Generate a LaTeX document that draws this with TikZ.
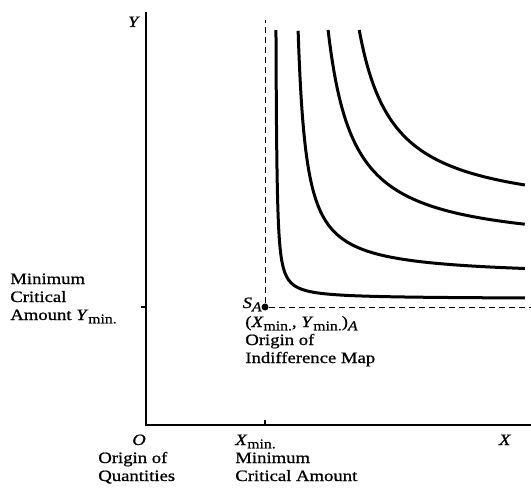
\documentclass[tikz,border=0pt]{standalone}
\usepackage{fontspec}
\setmainfont{Liberation Serif}[FakeStretch=1.18, FakeBold=0.8]
\usetikzlibrary{positioning}

\newcommand\lowsub[1]{\raisebox{-0.45ex}{\footnotesize #1}}

\tikzset{
  axis/.style={line width=0.9pt},
  guide/.style={line width=0.5pt, dash pattern=on 3.6pt off 2.4pt},
  curve/.style={line width=1.8pt},
  lbl/.style={inner sep=0pt, align=left, font=\fontsize{9.5}{10.8}\selectfont},
}

\begin{document}
\begin{tikzpicture}[x=0.6pt,y=-0.6pt]
  \useasboundingbox (0,0) rectangle (531,487);

  % axes
  \coordinate (O) at (146,425);
  \coordinate (Ytop) at (146,12);
  \coordinate (Xend) at (531,425);
  \draw[axis] (Ytop) -- (O) -- (Xend);

  % origin of the indifference map
  \node[circle,fill=black,inner sep=1.5pt] (SA) at (265,307) {};
  \coordinate (Vtop) at (265,20);
  \coordinate (Hend) at (531,307);
  \draw[guide] (SA) -- (Vtop);
  \draw[guide] (SA) -- (Hend);
  \draw[axis] (O |- SA) -- +(-5,0);
  \draw[axis] (SA |- O) -- +(0,-5);

  % indifference curves
  \begin{scope}[shift={(SA)}, x=0.6pt, y=0.6pt]
    \foreach \a/\b/\k in {10/8/260, 25/30/2000, 38/58/5500, 60/90/6400} {
      \pgfmathsetmacro\s{sqrt(\k)}
      \pgfmathsetmacro\tA{ln(\k/(277-\b)/\s)}
      \pgfmathsetmacro\tB{ln((260-\a)/\s)}
      \draw[curve] plot[domain=\tA:\tB, samples=80, smooth]
        ({\a+\s*exp(\x)}, {\b+\s*exp(-\x)});
    }
  \end{scope}

  % labels (base = last line)
  \node[lbl, anchor=base] (Ylab) at (134,27) {\textit{Y}};
  \node[lbl, anchor=base] (Xlab) at (505,445) {\textit{X}};
  \node[lbl, anchor=base] (Olab) at (139,445) {\textit{O}};
  \node[lbl, anchor=base west] (Ymin) at (10,320)
    {Minimum\\Critical\\Amount \textit{Y}\lowsub{min.}};
  \node[lbl, anchor=base east] (SAlab) at (262,308) {\textit{S}\lowsub{\textit{A}}};
  \node[lbl, anchor=base west] (map) at (245,363)
    {(\textit{X}\lowsub{min.}, \textit{Y}\lowsub{min.})\lowsub{\textit{A}}\\Origin of\\Indifference Map};
  \node[lbl, anchor=base west] (Xmin) at (235,481)
    {\textit{X}\lowsub{min.}\\Minimum\\Critical Amount};
  \node[lbl, anchor=base west] (quant) at (98,481)
    {Origin of\\Quantities};
\end{tikzpicture}
\end{document}
